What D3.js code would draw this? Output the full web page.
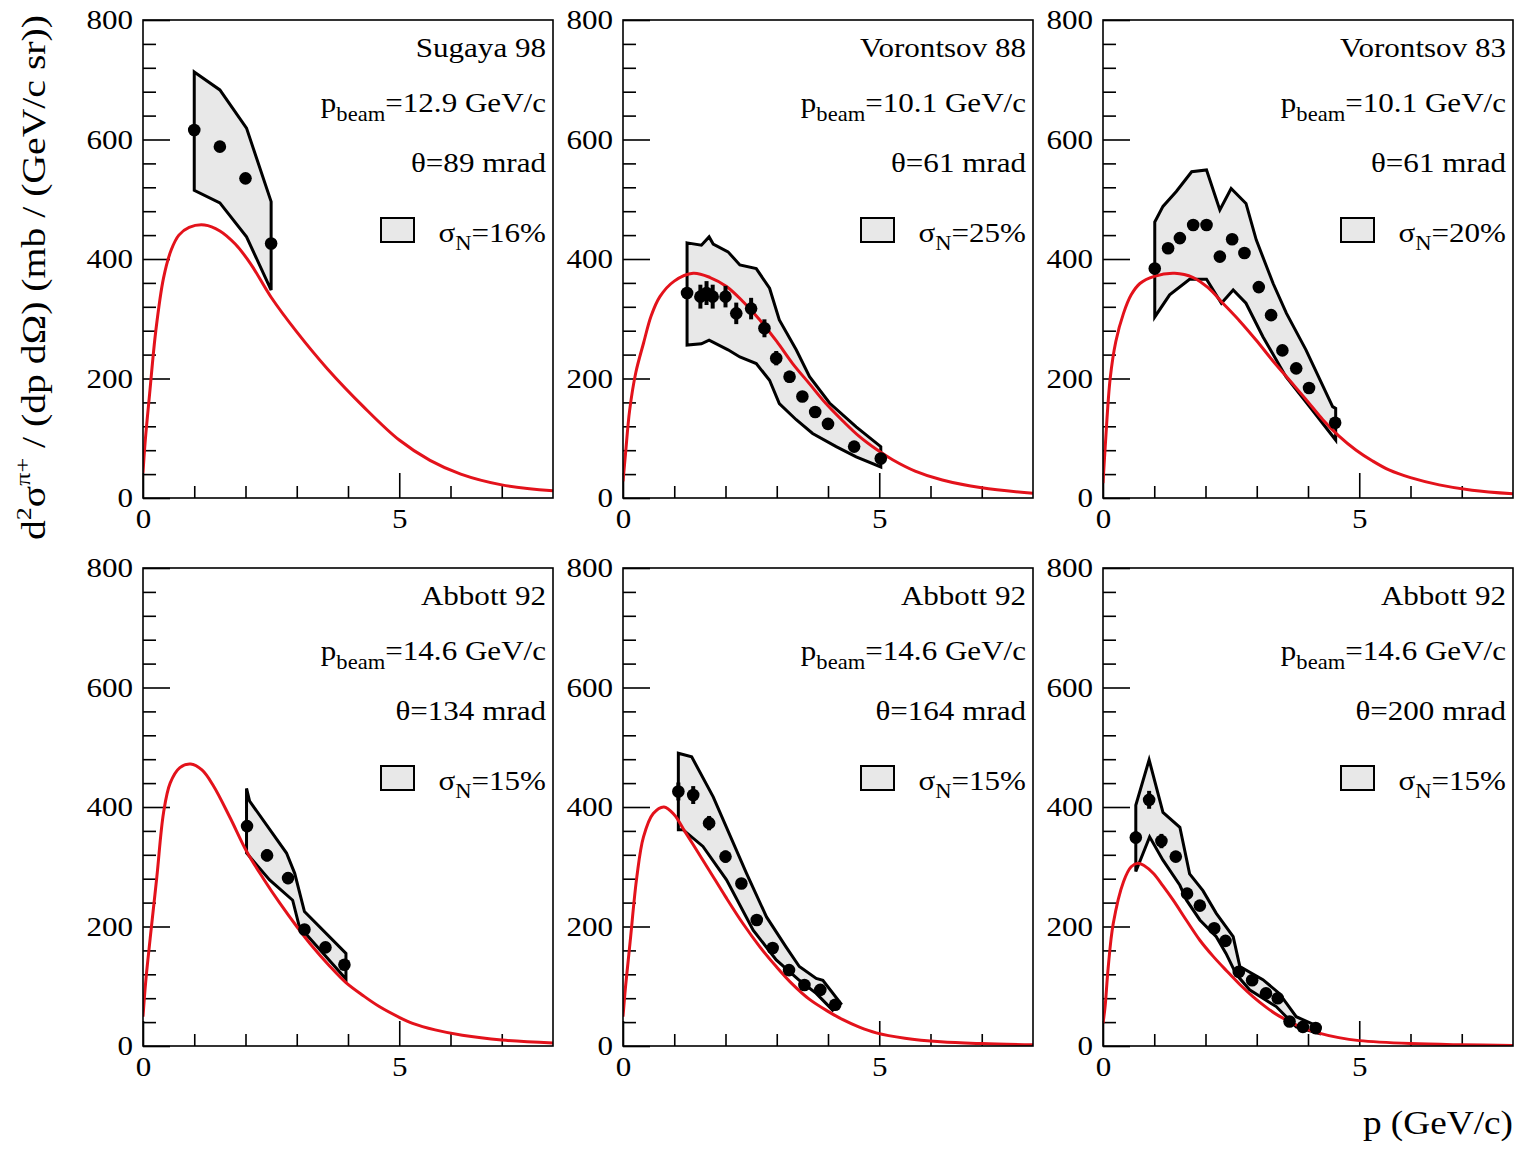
<!DOCTYPE html>
<html><head><meta charset="utf-8">
<script src="https://cdn.jsdelivr.net/npm/d3@7"></script>
<style>body{margin:0;background:#fff} svg{display:block}</style>
</head><body><svg id="c" width="1517" height="1152"></svg>
<script>
// ---------- labels ----------
const experiments = ["Sugaya 98","Vorontsov 88","Vorontsov 83","Abbott 92","Abbott 92","Abbott 92"];
const pbeam = ["12.9","10.1","10.1","14.6","14.6","14.6"];
const theta = ["89","61","61","134","164","200"];
const sigmaN = ["16","25","20","15","15","15"];
const yMajor = [0,200,400,600,800];
const xMajor = [0,5];
const xMinor = [1,2,3,4,6,7];

// ---------- model curves [p, value] ----------
const curve1 = [[0,42],[0.04,92],[0.13,175],[0.25,280],[0.4,368],[0.55,415],[0.7,440],[0.9,453],[1.2,457],[1.5,447],[1.8,425],[2.1,392],[2.5,336],[3.0,278],[3.6,216],[4.3,153],[5.0,97],[5.6,63],[6.2,40],[7.0,22],[8.0,12]];
const curve2 = [[0,28],[0.05,75],[0.13,147],[0.25,210],[0.4,259],[0.55,305],[0.72,337],[1.0,363],[1.37,376],[1.7,369],[2.02,354],[2.35,328],[2.67,298],[3.0,262],[3.31,225],[3.64,191],[3.96,158],[4.3,128],[4.61,103],[4.95,81],[5.26,64],[5.7,45],[6.23,30],[7.0,17],[8.0,8]];
const curve3 = [[0,25],[0.05,95],[0.14,200],[0.25,262],[0.4,309],[0.55,340],[0.72,359],[1.0,371],[1.4,376],[1.76,369],[2.05,352],[2.34,326],[2.67,296],[2.99,264],[3.3,231],[3.64,197],[3.96,165],[4.29,131],[4.6,104],[4.94,80],[5.26,62],[5.58,47],[6.0,34],[6.56,22],[7.2,13],[8.0,7]];
const curve4 = [[0,49],[0.05,105],[0.14,180],[0.27,283],[0.4,390],[0.53,440],[0.72,466],[0.93,472],[1.15,462],[1.37,436],[1.7,382],[2.02,326],[2.35,280],[2.67,239],[3.0,200],[3.31,166],[3.64,134],[3.96,106],[4.3,84],[4.61,66],[5.0,48],[5.26,38],[5.7,27],[6.23,18],[7.0,10],[8.0,5]];
const curve5 = [[0,49],[0.05,100],[0.14,175],[0.27,283],[0.4,350],[0.59,389],[0.8,400],[1.0,387],[1.2,360],[1.45,326],[1.69,293],[2.0,250],[2.34,205],[2.67,166],[2.99,133],[3.3,104],[3.64,78],[4.0,58],[4.29,44],[4.6,32],[4.94,22],[5.5,13],[6.2,7],[7.0,4],[8.0,2]];
const curve6 = [[0,38],[0.04,65],[0.1,130],[0.2,205],[0.4,275],[0.55,300],[0.68,306],[0.8,302],[0.98,289],[1.17,268],[1.37,244],[1.63,210],[1.89,177],[2.15,150],[2.41,126],[2.67,103],[2.92,83],[3.18,65],[3.44,50],[3.83,33],[4.2,22],[4.6,14],[5.0,9],[6.0,4],[7.0,2],[8.0,1]];

// ---------- systematic bands [p, value] ----------
const upper1 = [[1.0,713],[1.5,683],[2.02,619],[2.5,496]];
const lower1 = [[1.0,515],[1.5,494],[2.02,437],[2.5,348]];
const upper2 = [[1.25,427],[1.53,423],[1.68,437],[1.76,425],[2.05,412],[2.28,390],[2.6,384],[2.86,351],[3.05,298],[3.38,248],[3.64,203],[4.03,159],[4.55,119],[5.03,86]];
const lower2 = [[1.25,256],[1.53,258],[1.68,264],[2.05,248],[2.28,236],[2.6,225],[2.86,197],[3.05,158],[3.38,131],[3.7,108],[4.16,86],[4.55,69],[5.03,52]];
const upper3 = [[1.01,462],[1.17,488],[1.43,513],[1.73,546],[2.02,549],[2.28,482],[2.5,518],[2.79,493],[2.99,432],[3.32,359],[3.58,309],[3.96,248],[4.48,153],[4.54,150]];
const lower3 = [[1.01,303],[1.30,340],[1.69,366],[2.02,366],[2.31,326],[2.54,348],[2.79,326],[3.12,270],[3.57,203],[4.03,153],[4.54,97]];
const upper4 = [[2.02,431],[2.08,410],[2.8,323],[2.96,289],[3.15,225],[3.96,155]];
const lower4 = [[2.02,323],[2.47,278],[2.92,244],[3.05,200],[3.96,112]];
const upper5 = [[1.08,490],[1.34,484],[1.76,417],[2.41,289],[2.8,216],[3.18,166],[3.44,133],[3.77,113],[3.9,110],[4.25,71]];
const lower5 = [[1.08,362],[1.17,362],[1.56,334],[2.02,278],[2.54,194],[2.99,144],[3.44,110],[3.77,88],[4.09,60]];
const upper6 = [[0.64,403],[0.9,479],[1.17,391],[1.5,366],[1.69,288],[1.95,260],[2.21,222],[2.54,183],[2.67,133],[3.12,111],[3.44,88],[3.77,49],[4.22,32]];
const lower6 = [[0.64,292],[0.91,350],[1.17,311],[1.5,269],[1.63,244],[1.89,211],[2.21,183],[2.4,155],[2.6,120],[2.86,94],[3.38,66],[3.77,32],[4.22,21]];

// ---------- data points [p, value, error] ----------
const pts1 = [[1.0,616,0],[1.5,588,0],[2.0,535,0],[2.5,426,0]];
const pts2 = [[1.25,343,0],[1.51,337,20],[1.63,343,20],[1.75,337,20],[2.0,337,18],[2.21,309,18],[2.5,317,18],[2.76,284,15],[2.99,234,12],[3.25,203,10],[3.5,170,0],[3.75,144,0],[4.0,124,0],[4.51,86,0],[5.03,66,0]];
const pts3 = [[1.01,384,0],[1.27,418,0],[1.5,435,0],[1.76,457,0],[2.02,457,0],[2.28,404,0],[2.52,433,0],[2.76,410,0],[3.04,353,0],[3.28,306,0],[3.5,247,0],[3.77,217,0],[4.02,184,0],[4.53,126,0]];
const pts4 = [[2.03,368,10],[2.42,319,10],[2.83,281,10],[3.15,195,8],[3.56,165,8],[3.93,136,8]];
const pts5 = [[1.08,426,15],[1.37,420,15],[1.68,373,12],[2.0,317,10],[2.31,272,8],[2.61,211,8],[2.92,164,6],[3.24,127,6],[3.54,102,6],[3.85,94,6],[4.14,69,6]];
const pts6 = [[0.64,349,10],[0.9,412,15],[1.14,343,12],[1.42,317,8],[1.64,255,8],[1.89,235,8],[2.17,197,6],[2.39,176,6],[2.65,124,6],[2.91,110,6],[3.18,88,6],[3.41,80,6],[3.64,41,5],[3.9,32,5],[4.15,30,5]];

const curves = [curve1,curve2,curve3,curve4,curve5,curve6];
const uppers = [upper1,upper2,upper3,upper4,upper5,upper6];
const lowers = [lower1,lower2,lower3,lower4,lower5,lower6];
const points = [pts1,pts2,pts3,pts4,pts5,pts6];

// ---------- layout ----------
const SX = 1.13;
const FONT = "'Liberation Serif','Times New Roman',serif";
const W = 410, H = 478;
const colX = [143, 623, 1103], rowY = [20, 568];
const svg = d3.select("#c").style("font-family", FONT);
const x = d3.scaleLinear().domain([0,8]).range([0,W]);
const y = d3.scaleLinear().domain([0,800]).range([H,0]);
const yMinor = d3.range(40, 800, 40).filter(v => v % 200 !== 0);

const line = d3.line().x(d => x(d[0])).y(d => y(d[1])).curve(d3.curveCatmullRom.alpha(0.5));
const poly = d3.line().x(d => x(d[0])).y(d => y(d[1]));

for (let i = 0; i < 6; i++) {
  const gx = colX[i % 3], gy = rowY[Math.floor(i / 3)];
  const g = svg.append("g").attr("transform", `translate(${gx},${gy})`);
  g.append("clipPath").attr("id", "clip" + i).append("rect").attr("width", W).attr("height", H);

  // axes
  const ya = g.append("g").call(d3.axisLeft(y).tickValues(yMajor).tickSize(-27).tickPadding(10).tickFormat(d3.format("d")));
  const yb = g.append("g").call(d3.axisLeft(y).tickValues(yMinor).tickSize(-13).tickFormat(""));
  const xa = g.append("g").attr("transform", `translate(0,${H})`).call(d3.axisBottom(x).tickValues(xMajor).tickSize(-25).tickPadding(10).tickFormat(d3.format("d")));
  const xb = g.append("g").attr("transform", `translate(0,${H})`).call(d3.axisBottom(x).tickValues(xMinor).tickSize(-12).tickFormat(""));
  [ya, yb, xa, xb].forEach(a => {
    a.select(".domain").remove();
    a.selectAll("line").attr("stroke", "#000").attr("stroke-width", 1.6);
    a.selectAll("text").attr("font-family", FONT).attr("font-size", 27.5).attr("fill", "#000");
  });
  ya.selectAll("text").attr("x", -10 / SX).attr("transform", `scale(${SX},1)`);
  xa.selectAll("text").attr("x", 0).attr("transform", `scale(${SX},1)`);

  const plot = g.append("g").attr("clip-path", `url(#clip${i})`);
  // band
  const ring = uppers[i].concat(lowers[i].slice().reverse());
  plot.append("path").attr("d", poly(ring) + "Z")
    .attr("fill", "#e8e8e8").attr("stroke", "#000").attr("stroke-width", 3).attr("stroke-linejoin", "miter");
  // model curve
  plot.append("path").attr("d", line(curves[i])).attr("fill", "none")
    .attr("stroke", "#e3121b").attr("stroke-width", 3);
  // error bars + points
  plot.selectAll(".eb").data(points[i].filter(d => d[2] > 0)).join("line")
    .attr("x1", d => x(d[0])).attr("x2", d => x(d[0]))
    .attr("y1", d => y(d[1] - d[2])).attr("y2", d => y(d[1] + d[2]))
    .attr("stroke", "#000").attr("stroke-width", 4);
  plot.selectAll(".pt").data(points[i]).join("circle")
    .attr("cx", d => x(d[0])).attr("cy", d => y(d[1])).attr("r", 6.3).attr("fill", "#000");

  // frame
  g.append("rect").attr("width", W).attr("height", H).attr("fill", "none")
    .attr("stroke", "#000").attr("stroke-width", 1.6);

  // texts
  const tx = W - 7;
  const mk = (yy) => g.append("text").attr("transform", `translate(${tx},${yy}) scale(${SX},1)`)
    .attr("text-anchor", "end").attr("font-size", 27.5).attr("fill", "#000");
  mk(37).text(experiments[i]);
  const t2 = mk(92);
  t2.append("tspan").text("p");
  t2.append("tspan").attr("font-size", 20).attr("dy", 9).text("beam");
  t2.append("tspan").attr("dy", -9).text("=" + pbeam[i] + " GeV/c");
  mk(152).text("\u03B8=" + theta[i] + " mrad");
  const t4 = mk(222);
  t4.append("tspan").text("\u03C3");
  t4.append("tspan").attr("font-size", 20).attr("dy", 8).text("N");
  t4.append("tspan").attr("dy", -8).text("=" + sigmaN[i] + "%");
  // legend box
  g.append("rect").attr("x", W - 172).attr("y", 198).attr("width", 33).attr("height", 24)
    .attr("fill", "#e8e8e8").attr("stroke", "#000").attr("stroke-width", 2);
}

// axis titles
svg.append("text").attr("transform", `translate(1513,1134) scale(${SX},1)`)
  .attr("text-anchor", "end").attr("font-size", 33).text("p (GeV/c)");

const yt = svg.append("text").attr("transform", `translate(45,15) scale(${SX},1) rotate(-90)`)
  .attr("text-anchor", "end").attr("font-size", 29);
yt.append("tspan").text("d");
yt.append("tspan").attr("font-size", 19).attr("dy", -12).text("2");
yt.append("tspan").attr("dy", 12).text("\u03C3");
yt.append("tspan").attr("font-size", 19).attr("dy", -13).text("\u03C0+");
yt.append("tspan").attr("dy", 13).text(" / (dp d\u03A9) (mb / (GeV/c sr))");
yt.attr("textLength", 525).attr("lengthAdjust", "spacingAndGlyphs");
</script>
</body></html>
